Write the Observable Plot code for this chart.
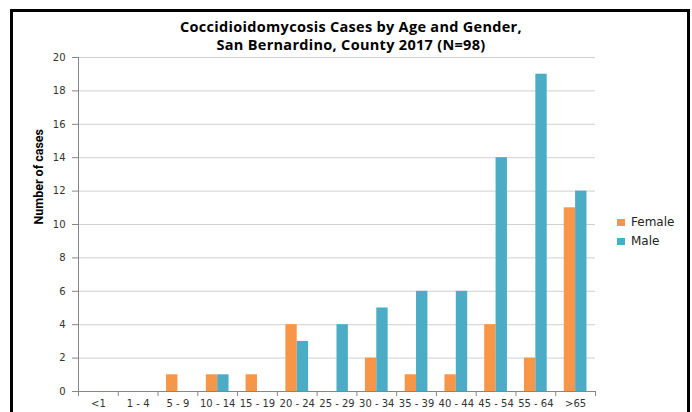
<!DOCTYPE html>
<html>
<head>
<meta charset="utf-8">
<script src="https://cdn.jsdelivr.net/npm/d3@7"></script>
<script src="https://cdn.jsdelivr.net/npm/@observablehq/plot@0.6"></script>
<style>
  html, body { margin: 0; padding: 0; background: #fff; }
  #wrap { position: relative; width: 692px; height: 412px; overflow: hidden; background: #fff; }
  #frame { position: absolute; left: 10px; top: 9px; width: 680px; height: 420px; border: 3px solid #000; border-bottom: none; box-sizing: border-box; }
  #title { position: absolute; left: 10px; width: 682px; top: 18px; text-align: center; font-family: "Open Sans", sans-serif; font-weight: 700; font-size: 14.5px; letter-spacing: 0.3px; line-height: 18px; color: #000; }
  #chart { position: absolute; left: 0; top: 0; }
  #legend { position: absolute; left: 617px; top: 214px; font-family: "DejaVu Sans", Verdana, sans-serif; font-size: 12px; color: #222; }
  #legend div { height: 19px; line-height: 16px; white-space: nowrap; }
  #legend span.sw { display: inline-block; width: 8px; height: 7px; margin-right: 6px; vertical-align: 0px; }
</style>
</head>
<body>
<div id="wrap">
  <div id="frame"></div>
  <div id="chart"></div>
  <div id="title">Coccidioidomycosis Cases by Age and Gender,<br>San Bernardino, County 2017 (N=98)</div>
  <div id="legend"></div>
</div>
<script>
const categories = ["<1", "1 - 4", "5 - 9", "10 - 14", "15 - 19", "20 - 24", "25 - 29", "30 - 34", "35 - 39", "40 - 44", "45 - 54", "55 - 64", ">65"];
const female = [0, 0, 1, 1, 1, 4, 0, 2, 1, 1, 4, 2, 11];
const male = [0, 0, 0, 1, 0, 3, 4, 5, 6, 6, 14, 19, 12];
const yTicks = [0, 2, 4, 6, 8, 10, 12, 14, 16, 18, 20];
const seriesNames = ["Female", "Male"];
const seriesColors = ["#F79646", "#4BACC6"];
const yLabel = "Number of cases";

const W = 692, H = 412;
const mL = 78, mR = 97, mT = 57, mB = 21;
const step = (W - mL - mR) / categories.length;
const barW = step / 3.5;

const femaleData = categories.map((c, i) => ({age: c, value: female[i]}));
const maleData = categories.map((c, i) => ({age: c, value: male[i]}));

const axisColor = "#868686";
const tickFont = "DejaVu Sans, Verdana, sans-serif";

const chart = Plot.plot({
  width: W,
  height: H,
  marginLeft: mL,
  marginRight: mR,
  marginTop: mT,
  marginBottom: mB,
  style: {background: "transparent", fontFamily: tickFont, overflow: "visible"},
  x: {type: "band", domain: categories, padding: 0, round: false, axis: null},
  y: {domain: [0, 20], axis: null},
  marks: [
    Plot.gridY(yTicks, {stroke: "#d0d0d0", strokeOpacity: 1, strokeWidth: 1}),
    Plot.barY(femaleData, {x: "age", y: "value", fill: seriesColors[0], insetLeft: step / 2 - barW, insetRight: step / 2}),
    Plot.barY(maleData, {x: "age", y: "value", fill: seriesColors[1], insetLeft: step / 2, insetRight: step / 2 - barW}),
    Plot.ruleY([0], {stroke: axisColor}),
    Plot.ruleX([categories[0]], {dx: -step / 2, stroke: axisColor}),
    Plot.axisY(yTicks, {tickSize: 6, tickPadding: 7, stroke: axisColor, fill: "#333", fontSize: 10, label: null, tickFormat: d => String(d)}),
    Plot.axisX(categories, {tickSize: 5, dx: -step / 2, stroke: axisColor, tickFormat: () => "", label: null}),
    Plot.axisX([categories[categories.length - 1]], {tickSize: 5, dx: step / 2, stroke: axisColor, tickFormat: () => "", label: null}),
    Plot.axisX(categories, {tickSize: 0, tickPadding: 8, fill: "#333", fontSize: 10, label: null}),
    Plot.text([yLabel], {frameAnchor: "left", dx: -40, rotate: -90, fontWeight: "bold", fontSize: 12.5, fontFamily: "Liberation Sans Narrow, Roboto, sans-serif", fill: "#000"})
  ]
});
document.getElementById("chart").appendChild(chart);

const legend = document.getElementById("legend");
seriesNames.forEach((n, i) => {
  const row = document.createElement("div");
  const sw = document.createElement("span");
  sw.className = "sw";
  sw.style.background = seriesColors[i];
  row.appendChild(sw);
  row.appendChild(document.createTextNode(n));
  legend.appendChild(row);
});
</script>
</body>
</html>
